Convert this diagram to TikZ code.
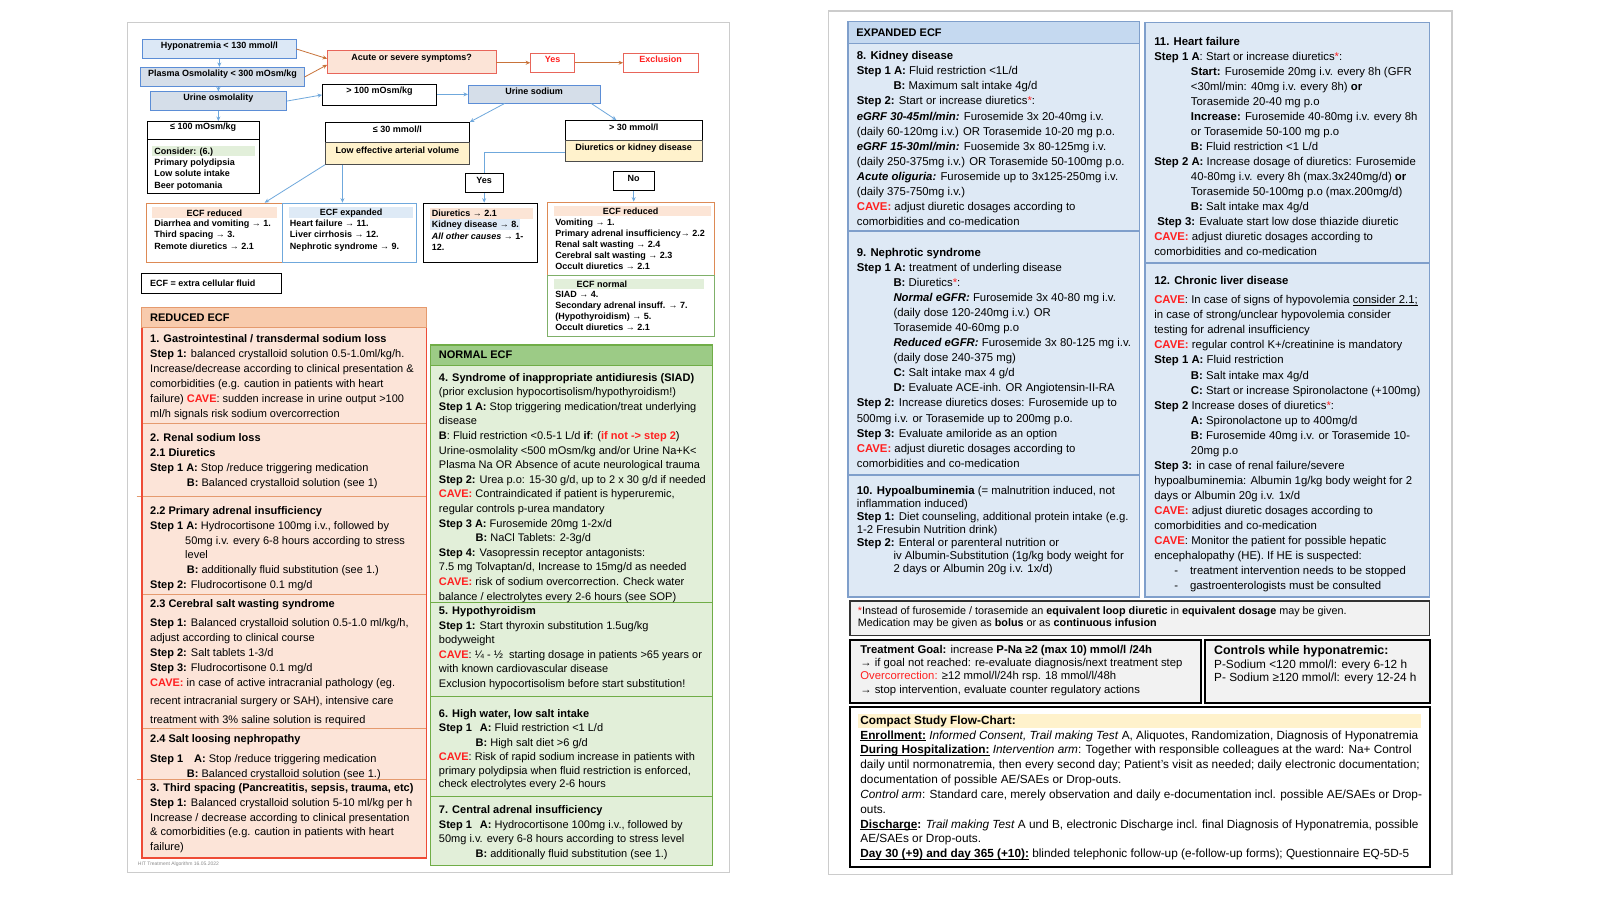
\documentclass[tikz,border=0pt]{standalone}
\usepackage{fontspec}
\setmainfont{Liberation Sans}
\usetikzlibrary{fit,arrows.meta,calc}
\definecolor{flowblue}{HTML}{6FA8DC}
\definecolor{boxblue}{HTML}{5B8DD6}
\definecolor{hypofill}{HTML}{DCE8F6}
\definecolor{grayblue}{HTML}{D5DEE9}
\definecolor{arrorange}{HTML}{C8733A}
\definecolor{acutefill}{HTML}{FCE4D7}
\definecolor{acuteborder}{HTML}{E8655A}
\definecolor{cred}{HTML}{FF2020}
\definecolor{yelfill}{HTML}{FFF2CC}
\definecolor{ecforange}{HTML}{DD8A55}
\definecolor{hlorange}{HTML}{FCE5D6}
\definecolor{hlblue}{HTML}{DEEAF6}
\definecolor{hlgreen}{HTML}{E2EFDA}
\definecolor{ecfgreen}{HTML}{7FB069}
\definecolor{redhead}{HTML}{F8CBAD}
\definecolor{redbody}{HTML}{FCE4D8}
\definecolor{redline}{HTML}{EE4B36}
\definecolor{redsep}{HTML}{E59A6E}
\definecolor{greenhead}{HTML}{9CCB86}
\definecolor{greenbody}{HTML}{E2EFD9}
\definecolor{greenline}{HTML}{70AD47}
\definecolor{bluehead}{HTML}{C5D9F0}
\definecolor{bluebody}{HTML}{DEE9F5}
\definecolor{blueline}{HTML}{7F9FCB}
\definecolor{panelgray}{HTML}{F2F2F2}
\newcommand\fflow{\fontsize{9}{11.4}\selectfont\bfseries}
\newcommand\fflowb{\fontsize{9}{10.9}\selectfont\bfseries}
\newcommand\fbody{\fontsize{11}{14.9}\selectfont}
\newcommand\fbodyN{\fontsize{11}{14.6}\selectfont}
\newcommand\fbodyR{\fontsize{11.35}{15.05}\selectfont}
\newcommand\fnote{\fontsize{10.8}{12.25}\selectfont}
\newcommand\fgoal{\fontsize{11.3}{13.3}\selectfont}
\newcommand\fctrl{\fontsize{11.8}{13.3}\selectfont}
\newcommand\fcomp{\fontsize{11.8}{14.85}\selectfont}
\newcommand\fhdr{\fontsize{11}{13}\selectfont\bfseries}
\newcommand\cv{\textcolor{cred}{\textbf{CAVE}}}
\newcommand\cvc{\textcolor{cred}{\textbf{CAVE:}}}
\newcommand\ind{\hspace*{36.7pt}}
\newcommand\rs{\textcolor{cred}{*}}
\newcommand\ul[1]{\underline{\smash{#1}}}
\tikzset{
  fb/.style={inner sep=0pt, font=\fflow, line width=0.8pt},
  farr/.style={draw=flowblue, line width=0.8pt, -{Stealth[length=4.5pt,width=4pt]}},
  fline/.style={draw=flowblue, line width=0.8pt},
  oarr/.style={draw=arrorange, line width=0.8pt, -{Stealth[length=4.5pt,width=4pt]}},
  ft/.style={inner sep=0pt, font=\fflow},
  ftb/.style={inner sep=0pt, font=\fflow, anchor=north west, align=left},
  txt/.style={inner sep=0pt, anchor=north west, align=left},
  hdr/.style={inner sep=0pt, anchor=west, font=\fhdr},
  pageborder/.style={draw=black!20, line width=1.6pt}
}
\begin{document}
\begin{tikzpicture}[x=1.0204pt,y=-1.0204pt]
\useasboundingbox (0,0) rectangle (1568,882);
\fill[white] (0,0) rectangle (1568,882);
% pages
\draw[pageborder] (125,22) rectangle (715,855);
\draw[pageborder] (812,11) rectangle (1423,857);

% ---------------- flowchart ----------------
\node[fb,draw=boxblue,fill=hypofill,fit={(140,39)(290,57)}] (hypo) {Hyponatremia < 130 mmol/l};
\node[fb,draw=boxblue,fill=grayblue,fit={(138,66)(298,85)}] (plasma) {Plasma Osmolality < 300 mOsm/kg};
\node[fb,draw=boxblue,fill=grayblue,fit={(147,90)(281,108)}] (uosm) {Urine osmolality};
\node[fb,draw=acuteborder,fill=acutefill,fit={(321,49)(486,72)}] (acute) {Acute or severe symptoms?};
\node[fb,draw=acuteborder,fill=white,text=cred,fit={(520,52)(563,71)}] (yes1) {Yes};
\node[fb,draw=acuteborder,fill=white,text=cred,fit={(611,52)(684,71)}] (excl) {Exclusion};
\node[fb,draw=black,fill=white,fit={(316,83)(428,103)}] (gt100) {> 100 mOsm/kg};
\node[fb,draw=boxblue,fill=grayblue,fit={(459,84)(588,101)}] (usod) {Urine sodium};
\node[fb,draw=black,fill=white,fit={(144,119)(254,137)}] (le100) {≤ 100 mOsm/kg};
\node[fb,draw=black,fill=white,fit={(144,137)(254,190)}] (consider) {};
\node[fb,draw=black,fill=white,fit={(319,120)(460,140)}] (le30) {≤ 30 mmol/l};
\node[fb,draw=black!70,fill=yelfill,fit={(319,140)(460,161)}] (lowvol) {Low effective arterial volume};
\node[fb,draw=black,fill=white,fit={(554,118)(688,138)}] (gt30) {> 30 mmol/l};
\node[fb,draw=black!70,fill=yelfill,fit={(554,138)(688,158)}] (diukid) {Diuretics or kidney disease};
\node[fb,draw=black,fill=white,fit={(456,170)(493,189)}] (yes2) {Yes};
\node[fb,draw=black,fill=white,fit={(601,168)(641,187)}] (no) {No};
\node[fb,draw=ecforange,fill=white,fit={(143,199)(277,257)}] (ecfred1) {};
\node[fb,draw=flowblue,fill=white,fit={(277,199)(408,257)}] (ecfexp) {};
\node[fb,draw=black,fill=white,fit={(415,199)(527,257)}] (diubox) {};
\node[fb,draw=ecforange,fill=white,fit={(536,198)(700,270)}] (ecfred2) {};
\node[fb,draw=ecfgreen,fill=white,fit={(536,270)(700,330)}] (ecfnorm) {};
\node[fb,draw=black,fill=white,fit={(139,268)(276,288)}] (ecfdef) {};

% box contents
\fill[hlgreen] (149,142.8) rectangle (250,152.6);
\node[ftb] (tcons) at (151,143) {\strut Consider: (6.)\\Primary polydipsia\\Low solute intake\\Beer potomania};
\fill[hlorange] (149,203) rectangle (271,214);
\node[ft] (ter1h) at (210,208.6) {ECF reduced};
\node[ftb] (ter1) at (151,214) {\strut Diarrhea and vomiting → 1.\\Third spacing → 3.\\Remote diuretics → 2.1};
\fill[hlblue] (283,203) rectangle (405,214);
\node[ft] (texh) at (344,208.6) {ECF expanded};
\node[ftb] (tex) at (284,214) {\strut Heart failure → 11.\\Liver cirrhosis → 12.\\Nephrotic syndrome → 9.};
\fill[hlorange] (421,203.5) rectangle (522,214.3);
\fill[hlblue] (421,214.3) rectangle (510,225);
\node[ftb] (tdiu) at (423,204.2) {\strut Diuretics → 2.1\\Kidney disease → 8.\\\textit{All other causes} → 1-\\12.};
\fill[hlorange] (543,202) rectangle (697,212);
\node[ft] (ter2h) at (618,207) {ECF reduced};
\node[ftb,font=\fflowb] (ter2) at (544,213.7) {\strut Vomiting → 1.\\Primary adrenal insufficiency→ 2.2\\Renal salt wasting → 2.4\\Cerebral salt wasting → 2.3\\Occult diuretics → 2.1};
\fill[hlgreen] (543,273.5) rectangle (690,283.5);
\node[ft,anchor=west] (tenh) at (565,278.5) {ECF normal};
\node[ftb,font=\fflowb] (ten) at (544,283.9) {\strut SIAD → 4.\\Secondary adrenal insuff. → 7.\\(Hypothyroidism) → 5.\\Occult diuretics → 2.1};
\node[ft,anchor=west] (tdef) at (147,278) {ECF = extra cellular fluid};

% connectors
\draw[farr] (hypo.south) -- (hypo.south |- plasma.north);
\draw[farr] (plasma.south -| uosm.north) -- (uosm.north);
\draw[farr] (uosm.south) -- (uosm.south |- le100.north);
\draw[oarr] (hypo.east) -- ($(acute.west)+(0,-3)$);
\draw[oarr] (plasma.east) -- ($(acute.west)+(0,3)$);
\draw[oarr] (acute.east |- yes1.west) -- (yes1.west);
\draw[oarr] (yes1.east) -- (excl.west);
\draw[farr] (uosm.east) -- (gt100.west);
\draw[farr] (gt100.east |- usod.west) -- (usod.west);
\draw[farr] ($(usod.south)+(-29,0)$) -- (le30.north east);
\draw[farr] ($(usod.south east)+(-9,0)$) -- ($(gt30.north)+(-17,0)$);
\draw[fline] ($(diukid.west)+(0,1.5)$) -| (yes2.north);
\draw[farr] (lowvol.south west) -- ($(ecfred1.north east)+(-18,0)$);
\draw[farr] ($(lowvol.south west)+(17,0)$) coordinate (lvb) -- (lvb |- ecfexp.north);
\draw[farr] (yes2.south) -- (yes2.south |- diubox.north);
\draw[farr] (no.south) -- (no.south |- ecfred2.north);

% ---------------- REDUCED ECF ----------------
\fill[redbody] (139,321) rectangle (418,841);
\draw[draw=redsep,fill=redhead,line width=1pt] (139,301) rectangle (418,321);
\foreach \yy in {415.5,583,714.4} \draw[redsep,line width=1pt] (139,\yy) -- (418,\yy);
\foreach \yy in {486.7,763.8} \draw[redsep,line width=1pt] (134,\yy) -- (418,\yy);
\draw[redline,line width=1.4pt] (139,321) -- (139,841) -- (418,841) -- (418,321);
\node[hdr] (hred) at (147,311) {REDUCED ECF};

\node[txt,font=\fbody] (r1) at (147,325.5) {\strut\textbf{1. Gastrointestinal / transdermal sodium loss}\\
\textbf{Step 1:} balanced crystalloid solution 0.5-1.0ml/kg/h.\\
Increase/decrease according to clinical presentation \&\\
comorbidities (e.g. caution in patients with heart\\
failure) \cv: sudden increase in urine output >100\\
ml/h signals risk sodium overcorrection};
\node[txt,font=\fbody] (r2) at (147,422.5) {\strut\textbf{2. Renal sodium loss}\\
\textbf{2.1 Diuretics}\\
\textbf{Step 1 A:} Stop /reduce triggering medication\\
\ind\textbf{B:} Balanced crystalloid solution (see 1)};
\node[txt,font=\fbody] (r3) at (147,493.5) {\strut\textbf{2.2 Primary adrenal insufficiency}\\
\textbf{Step 1 A:} Hydrocortisone 100mg i.v., followed by\\
\hspace*{35pt}50mg i.v. every 6-8 hours according to stress\\
\hspace*{35pt}level\\
\ind\textbf{B:} additionally fluid substitution (see 1.)\\
\textbf{Step 2:} Fludrocortisone 0.1 mg/d};
\node[txt,font=\fbody] (r4) at (147,585) {\strut\textbf{2.3 Cerebral salt wasting syndrome}\\[4.5pt]
\textbf{Step 1:} Balanced crystalloid solution 0.5-1.0 ml/kg/h,\\
adjust according to clinical course\\
\textbf{Step 2:} Salt tablets 1-3/d\\
\textbf{Step 3:} Fludrocortisone 0.1 mg/d\\
\cvc{} in case of active intracranial pathology (eg.\\[3.5pt]
recent intracranial surgery or SAH), intensive care\\[3.5pt]
treatment with 3\% saline solution is required};
\node[txt,font=\fbody] (r5) at (147,717) {\strut\textbf{2.4 Salt loosing nephropathy}\\[5pt]
\textbf{Step 1}\hspace{11pt}\textbf{A:} Stop /reduce triggering medication\\
\ind\textbf{B:} Balanced crystalloid solution (see 1.)};
\node[txt,font=\fbody] (r6) at (147,765) {\strut\textbf{3. Third spacing (Pancreatitis, sepsis, trauma, etc)}\\
\textbf{Step 1:} Balanced crystalloid solution 5-10 ml/kg per h\\
Increase / decrease according to clinical presentation\\
\& comorbidities (e.g. caution in patients with heart\\
failure)};
\node[anchor=west,inner sep=0pt,font=\fontsize{5}{6}\selectfont,text=black!45] (foot) at (135,847) {HIT Treatment Algorithm 16.05.2022};

% ---------------- NORMAL ECF ----------------
\fill[greenbody] (422,358) rectangle (698,848);
\foreach \yy in {590,683,781} \draw[greenline,line width=1pt] (422,\yy) -- (698,\yy);
\draw[greenline,line width=1.2pt] (422,358) rectangle (698,848);
\draw[draw=greenline,fill=greenhead,line width=1.2pt] (422,338) rectangle (698,358);
\node[hdr] (hnorm) at (430,348) {NORMAL ECF};

\node[txt,font=\fbodyN] (n4) at (430,363.3) {\strut\textbf{4. Syndrome of inappropriate antidiuresis (SIAD)}\\
(prior exclusion hypocortisolism/hypothyroidism!)\\
\textbf{Step 1 A:} Stop triggering medication/treat underlying\\
disease\\
\textbf{B}: Fluid restriction <0.5-1 L/d \textbf{if}: (\textcolor{cred}{\textbf{if not -> step 2}})\\
Urine-osmolality <500 mOsm/kg and/or Urine Na+K<\\
Plasma Na OR Absence of acute neurological trauma\\
\textbf{Step 2:} Urea p.o: 15-30 g/d, up to 2 x 30 g/d if needed\\
\cvc{} Contraindicated if patient is hyperuremic,\\
regular controls p-urea mandatory\\
\textbf{Step 3 A:} Furosemide 20mg 1-2x/d\\
\ind\textbf{B:} NaCl Tablets: 2-3g/d\\
\textbf{Step 4:} Vasopressin receptor antagonists:\\
7.5 mg Tolvaptan/d, Increase to 15mg/d as needed\\
\cvc{} risk of sodium overcorrection. Check water\\
balance / electrolytes every 2-6 hours (see SOP)};
\node[txt,font=\fbodyN] (n5) at (430,592) {\strut\textbf{5. Hypothyroidism}\\
\textbf{Step 1:} Start thyroxin substitution 1.5ug/kg\\
bodyweight\\
\cv: ¼ - ½\ \ starting dosage in patients >65 years or\\
with known cardiovascular disease\\
Exclusion hypocortisolism before start substitution!};
\node[txt,font=\fbodyN] (n6) at (430,692.5) {\strut\textbf{6. High water, low salt intake}\\
\textbf{Step 1}\hspace{8pt}\textbf{A:} Fluid restriction <1 L/d\\
\ind\textbf{B:} High salt diet >6 g/d\\
\cv: Risk of rapid sodium increase in patients with\\[-1.3pt]
primary polydipsia when fluid restriction is enforced,\\[-1.3pt]
check electrolytes every 2-6 hours};
\node[txt,font=\fbodyN] (n7) at (430,787.3) {\strut\textbf{7. Central adrenal insufficiency}\\
\textbf{Step 1}\hspace{8pt}\textbf{A:} Hydrocortisone 100mg i.v., followed by\\
50mg i.v. every 6-8 hours according to stress level\\
\ind\textbf{B:} additionally fluid substitution (see 1.)};

% ---------------- EXPANDED ECF ----------------
\draw[draw=blueline,fill=bluebody,line width=1.2pt] (831,43) rectangle (1117,585);
\draw[draw=blueline,fill=bluehead,line width=1.2pt] (831,21) rectangle (1117,43);
\foreach \yy in {226.4,465.5} \draw[blueline,line width=1.2pt] (831,\yy) -- (1117,\yy);
\node[hdr] (hexp) at (839,32) {EXPANDED ECF};
\draw[draw=blueline,fill=bluebody,line width=1.2pt] (1122,22) rectangle (1401,585);
\draw[blueline,line width=1.2pt] (1122,257.7) -- (1401,257.7);

\node[txt,font=\fbodyR] (e8) at (839.5,48.1) {\strut\textbf{8. Kidney disease}\\
\textbf{Step 1 A:} Fluid restriction <1L/d\\
\ind\textbf{B:} Maximum salt intake 4g/d\\
\textbf{Step 2:} Start or increase diuretics\rs:\\
\textbf{\textit{eGRF 30-45ml/min:}} Furosemide 3x 20-40mg i.v.\\
(daily 60-120mg i.v.) OR Torasemide 10-20 mg p.o.\\
\textbf{\textit{eGRF 15-30ml/min:}} Fuosemide 3x 80-125mg i.v.\\
(daily 250-375mg i.v.) OR Torasemide 50-100mg p.o.\\
\textbf{\textit{Acute oliguria:}} Furosemide up to 3x125-250mg i.v.\\
(daily 375-750mg i.v.)\\
\cvc{} adjust diuretic dosages according to\\
comorbidities and co-medication};
\node[txt,font=\fbodyR] (e9) at (839.5,240.8) {\strut\textbf{9. Nephrotic syndrome}\\
\textbf{Step 1 A:} treatment of underling disease\\
\ind\textbf{B:} Diuretics\rs:\\
\ind\textbf{\textit{Normal eGFR:}} Furosemide 3x 40-80 mg i.v.\\
\ind(daily dose 120-240mg i.v.) OR\\
\ind Torasemide 40-60mg p.o\\
\ind\textbf{\textit{Reduced eGFR:}} Furosemide 3x 80-125 mg i.v.\\
\ind(daily dose 240-375 mg)\\
\ind\textbf{C:} Salt intake max 4 g/d\\
\ind\textbf{D:} Evaluate ACE-inh. OR Angiotensin-II-RA\\
\textbf{Step 2:} Increase diuretics doses: Furosemide up to\\
500mg i.v. or Torasemide up to 200mg p.o.\\
\textbf{Step 3:} Evaluate amiloride as an option\\
\cvc{} adjust diuretic dosages according to\\
comorbidities and co-medication};
\node[txt,font=\fontsize{11.35}{13}\selectfont] (e10) at (839.5,475.3) {\strut\textbf{10. Hypoalbuminemia} (= malnutrition induced, not\\
inflammation induced)\\
\textbf{Step 1:} Diet counseling, additional protein intake (e.g.\\
1-2 Fresubin Nutrition drink)\\
\textbf{Step 2:} Enteral or parenteral nutrition or\\
\ind iv Albumin-Substitution (1g/kg body weight for\\
\ind 2 days or Albumin 20g i.v. 1x/d)};

\node[txt,font=\fbodyR] (h11) at (1131,33.7) {\strut\textbf{11. Heart failure}\\
\textbf{Step 1 A}: Start or increase diuretics\rs:\\
\ind\textbf{Start:} Furosemide 20mg i.v. every 8h (GFR\\
\ind <30ml/min: 40mg i.v. every 8h) \textbf{or}\\
\ind Torasemide 20-40 mg p.o\\
\ind\textbf{Increase:} Furosemide 40-80mg i.v. every 8h\\
\ind or Torasemide 50-100 mg p.o\\
\ind\textbf{B:} Fluid restriction <1 L/d\\
\textbf{Step 2 A:} Increase dosage of diuretics: Furosemide\\
\ind 40-80mg i.v. every 8h (max.3x240mg/d) \textbf{or}\\
\ind Torasemide 50-100mg p.o (max.200mg/d)\\
\ind\textbf{B:} Salt intake max 4g/d\\
\hspace*{3pt}\textbf{Step 3:} Evaluate start low dose thiazide diuretic\\
\cvc{} adjust diuretic dosages according to\\
comorbidities and co-medication};
\node[txt,font=\fbodyR] (h12) at (1131,267.9) {\strut\textbf{12. Chronic liver disease}\\[4.6pt]
\cv: In case of signs of hypovolemia \ul{consider 2.1;}\\
in case of strong/unclear hypovolemia consider\\
testing for adrenal insufficiency\\
\cvc{} regular control K+/creatinine is mandatory\\
\textbf{Step 1 A:} Fluid restriction\\
\ind\textbf{B:} Salt intake max 4g/d\\
\ind\textbf{C:} Start or increase Spironolactone (+100mg)\\
\textbf{Step 2} Increase doses of diuretics\rs:\\
\ind\textbf{A:} Spironolactone up to 400mg/d\\
\ind\textbf{B:} Furosemide 40mg i.v. or Torasemide 10-\\
\ind 20mg p.o\\
\textbf{Step 3:} in case of renal failure/severe\\
hypoalbuminemia: Albumin 1g/kg body weight for 2\\
days or Albumin 20g i.v. 1x/d\\
\cvc{} adjust diuretic dosages according to\\
comorbidities and co-medication\\
\cv: Monitor the patient for possible hepatic\\
encephalopathy (HE). If HE is suspected:\\
\hspace*{20pt}-\hspace*{12pt}treatment intervention needs to be stopped\\
\hspace*{20pt}-\hspace*{12pt}gastroenterologists must be consulted};

% ---------------- bottom boxes ----------------
\draw[draw=black!80,fill=panelgray,line width=1.2pt] (833,589) rectangle (1401,623);
\draw[draw=black,fill=panelgray,line width=1.8pt] (833,627) rectangle (1177,689);
\draw[draw=black,fill=panelgray,line width=1.8pt] (1181,627) rectangle (1401,689);
\draw[draw=black,fill=white,line width=1.8pt] (833,693) rectangle (1401,850);
\fill[yelfill] (841,699.5) rectangle (1393,713);

\node[txt,font=\fnote] (fn) at (840.6,593.5) {\strut\rs Instead of furosemide / torasemide an \textbf{equivalent loop diuretic} in \textbf{equivalent dosage} may be given.\\
Medication may be given as \textbf{bolus} or as \textbf{continuous infusion}};
\node[txt,font=\fgoal] (goal) at (843,631) {\strut\textbf{Treatment Goal:} increase \textbf{P-Na ≥2 (max 10) mmol/l /24h}\\
→ if goal not reached: re-evaluate diagnosis/next treatment step\\
\textcolor{cred}{Overcorrection:} ≥12 mmol/l/24h rsp. 18 mmol/l/48h\\
→ stop intervention, evaluate counter regulatory actions};
\node[anchor=west,inner sep=0pt,font=\fontsize{12.4}{14}\selectfont\bfseries] (ctrlh) at (1189.7,638.6) {Controls while hyponatremic:};
\node[txt,font=\fctrl] (ctrl) at (1189.7,645.8) {\strut P-Sodium <120 mmol/l: every 6-12 h\\
P- Sodium ≥120 mmol/l: every 12-24 h};
\node[txt,font=\fcomp] (comp) at (843,699.3) {\strut\textbf{Compact Study Flow-Chart:}\\
\textbf{\ul{Enrollment:}} \textit{Informed Consent, Trail making Test} A, Aliquotes, Randomization, Diagnosis of Hyponatremia\\
\textbf{\ul{During Hospitalization:}} \textit{Intervention arm}: Together with responsible colleagues at the ward: Na+ Control\\
daily until normonatremia, then every second day; Patient's visit as needed; daily electronic documentation;\\
documentation of possible AE/SAEs or Drop-outs.\\
\textit{Control arm}: Standard care, merely observation and daily e-documentation incl. possible AE/SAEs or Drop-\\
outs.\\
\textbf{\ul{Discharge}:} \textit{Trail making Test} A und B, electronic Discharge incl. final Diagnosis of Hyponatremia, possible\\
AE/SAEs or Drop-outs.\\
\textbf{\ul{Day 30 (+9) and day 365 (+10):}} blinded telephonic follow-up (e-follow-up forms); Questionnaire EQ-5D-5};
\end{tikzpicture}
\end{document}
